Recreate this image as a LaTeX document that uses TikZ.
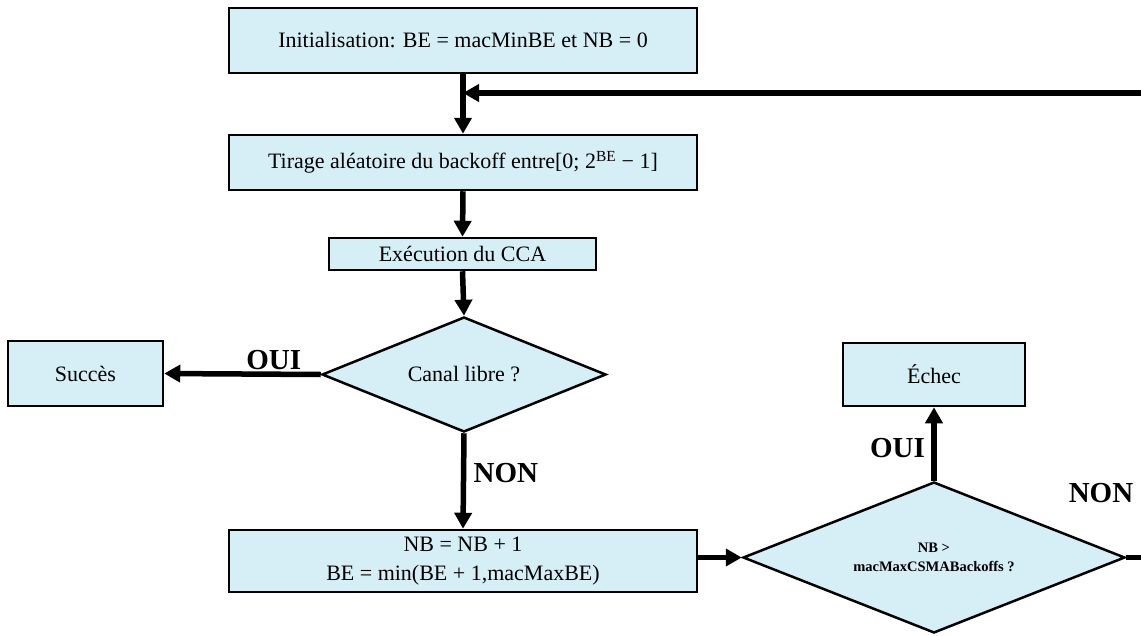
\documentclass[tikz,border=0pt]{standalone}
\usepackage{fontspec}
\setmainfont{Liberation Serif}
\usetikzlibrary{arrows.meta,shapes.geometric}
\definecolor{boxfill}{RGB}{214,238,246}
\tikzset{
  procbox/.style={draw=black,line width=2.5pt,fill=boxfill,rectangle,inner sep=2pt,align=center,font=\fontsize{22}{29}\selectfont},
  decide/.style={draw=black,line width=2.5pt,fill=boxfill,diamond,inner sep=0pt},
  dtext/.style={align=center,inner sep=0pt},
  flow/.style={line width=5.5pt,-{Triangle[length=16pt,width=17pt]}},
  plainflow/.style={line width=5.5pt},
  lab/.style={font=\bfseries\fontsize{29}{32}\selectfont}
}
\begin{document}
\begin{tikzpicture}[x=1pt,y=-1pt]
\useasboundingbox (0,0) rectangle (1141,635);
\node[procbox,minimum width=468pt,minimum height=65pt] (init) at (463,40.5) {Initialisation: BE = macMinBE et NB = 0};
\node[procbox,minimum width=468pt,minimum height=55pt] (tir) at (463,162.5) {Tirage aléatoire du backoff entre[0; 2\textsuperscript{BE} − 1]};
\node[procbox,minimum width=267pt,minimum height=32pt] (cca) at (462.5,254) {Exécution du CCA};
\node[decide,minimum width=284pt,minimum height=115pt] (canal) at (464,374.5) {};
\node[dtext,font=\fontsize{22}{29}\selectfont] (canaltxt) at (canal.center) {Canal libre ?};
\node[procbox,minimum width=155pt,minimum height=65pt] (succ) at (85.5,373.5) {Succès};
\node[procbox,minimum width=468pt,minimum height=62pt] (nb) at (463,561) {NB = NB + 1\\BE = min(BE + 1,macMaxBE)};
\node[decide,minimum width=382pt,minimum height=151pt] (max) at (934,557.5) {};
\node[dtext,font=\bfseries\fontsize{14.5}{19}\selectfont] (maxtxt) at (max.center) {NB >\\macMaxCSMABackoffs ?};
\node[procbox,minimum width=182pt,minimum height=63pt] (echec) at (934,374.5) {Échec};
\coordinate (fbstart) at (1141,93);
\coordinate (nonend) at (1141,557.5);
\draw[flow] (init.south) -- (tir.north);
\draw[flow] (fbstart) -- (fbstart -| init.south);
\draw[flow] (tir.south) -- (cca.north);
\draw[flow] (cca.south) -- (canal.north);
\draw[flow] (canal.west) -- node[lab,above,pos=0.3,yshift=-2pt] {OUI} (succ.east);
\draw[flow] (canal.south) -- node[lab,right,pos=0.42,xshift=4pt] {NON} (nb.north);
\draw[flow] (nb.east |- max.west) -- (max.west);
\draw[flow] (max.north) -- node[lab,left,pos=0.45,xshift=-3pt] {OUI} (echec.south);
\draw[plainflow] (max.east) -- (nonend);
\node[lab] (nonlab) at (1101,493) {NON};
\end{tikzpicture}
\end{document}
